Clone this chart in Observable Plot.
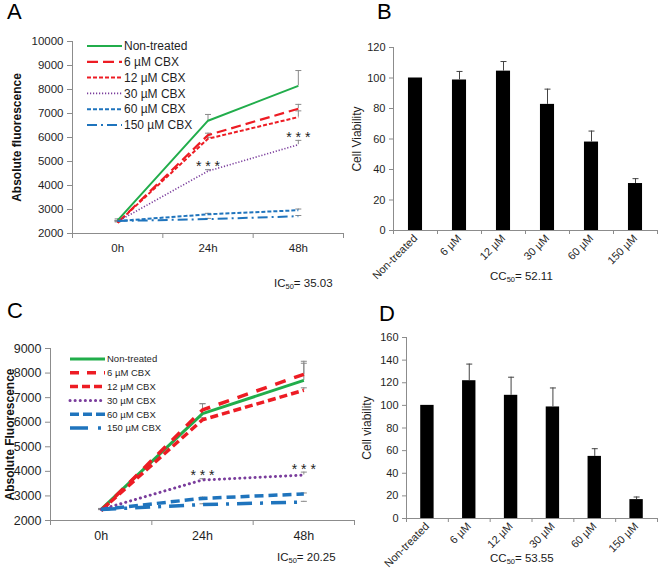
<!DOCTYPE html>
<html><head><meta charset="utf-8">
<script src="https://cdn.jsdelivr.net/npm/d3@7"></script>
<script src="https://cdn.jsdelivr.net/npm/@observablehq/plot@0.6"></script>
<style>
body{margin:0;background:#fff;}
#fig{position:relative;width:658px;height:576px;overflow:hidden;font-family:"Liberation Sans",Arial,sans-serif;background:#fff;}
.panel{position:absolute;}
.letter{position:absolute;font-size:22px;line-height:24px;color:#000;}
.note{position:absolute;font-size:11.5px;line-height:14px;color:#1a1a1a;white-space:nowrap;}
.note sub{font-size:7.5px;vertical-align:-2px;}
</style></head><body><div id="fig"></div>
<script>
// ---------- data ----------
const timepoints = ["0h", "24h", "48h"];
const seriesNames = ["Non-treated", "6 µM CBX", "12 µM CBX", "30 µM CBX", "60 µM CBX", "150 µM CBX"];
const seriesColors = ["#21ad4b", "#ed1c24", "#ed1c24", "#7a3d9c", "#1f74bd", "#1f74bd"];

// Panel A: absolute fluorescence (series x timepoint)
const fluorA = [
  [2550, 6700, 8150],
  [2450, 6100, 7200],
  [2450, 5950, 6850],
  [2500, 4600, 5700],
  [2520, 2800, 2970],
  [2520, 2600, 2720]
];
const errA = [
  [60, 260, 640],
  [40, 80, 180],
  [40, 60, 260],
  [40, 60, 180],
  [30, 40, 50],
  [20, 30, 30]
];
// Panel C
const fluorC = [
  [2450, 6350, 7700],
  [2400, 6500, 7950],
  [2420, 6100, 7300],
  [2450, 3650, 3850],
  [2450, 2900, 3080],
  [2450, 2650, 2750]
];
const errC = [
  [40, 410, 780],
  [40, 250, 450],
  [40, 80, 100],
  [40, 50, 120],
  [30, 50, 40],
  [20, 30, 30]
];
const sigSeries = 3;               // series flagged with ***
const sigTimes = ["24h", "48h"];

// Panels B and D: cell viability
const doses = ["Non-treated", "6 µM", "12 µM", "30 µM", "60 µM", "150 µM"];
const viabilityB = [100, 98.7, 104.5, 82.7, 58, 30.8];
const viabilityErrB = [0, 5.6, 6.3, 10, 7.2, 3.2];
const viabilityD = [100, 121.8, 108.9, 98.6, 54.9, 16.7];
const viabilityErrD = [0, 14.7, 16, 16.8, 6.8, 2.3];

// ---------- styles ----------
const AXIS = "#8c8c8c";
const TXT = "#1f1f1f";
const ERR = "#8a8a8a";
const capSymbol = {draw(ctx, size) { const r = Math.sqrt(size / Math.PI); ctx.moveTo(-r, 0); ctx.lineTo(r, 0); }};
const plain = d3.format("d");

const fig = d3.select("#fig");

function place(node, left, top) {
  const div = fig.append("div").attr("class", "panel").style("left", left + "px").style("top", top + "px");
  div.node().appendChild(node);
}

function lineChart(o) {
  const rows = [];
  o.values.forEach((arr, s) => arr.forEach((v, t) => rows.push({s, t, x: t + 0.5, v, e: o.errs[s][t]})));
  const errRows = rows.filter(d => d.e > 0);
  const marks = [
    Plot.ruleY([o.yDomain[0]], {stroke: AXIS}),
    Plot.ruleX([0], {stroke: AXIS}),
    Plot.ruleX(errRows, {x: "x", y1: "v", y2: d => d.v + d.e, stroke: ERR, strokeWidth: 1}),
    Plot.dot(errRows, {x: "x", y: d => d.v + d.e, symbol: capSymbol, r: 3, stroke: ERR, fill: "none", strokeWidth: 1})
  ];
  seriesNames.forEach((name, s) => {
    marks.push(Plot.line(rows.filter(d => d.s === s), {
      x: "x", y: "v", stroke: seriesColors[s], strokeWidth: o.widths[s],
      strokeDasharray: o.dashes[s], strokeLinecap: o.caps[s], strokeLinejoin: "round"
    }));
  });
  const sigRows = rows.filter(d => d.s === sigSeries && sigTimes.includes(timepoints[d.t]));
  marks.push(Plot.text(sigRows, {x: "x", y: d => d.v + d.e, text: () => "* * *", dy: -3, fontSize: 14, fill: "#222"}));
  marks.push(Plot.axisY({ticks: o.yTicks, tickSize: 5, tickPadding: 4, tickFormat: plain, stroke: AXIS, fill: TXT, label: null, fontSize: o.tickFont}));
  marks.push(Plot.axisX({ticks: d3.range(0, timepoints.length + 1), tickSize: 5, tickFormat: () => "", stroke: AXIS, label: null}));
  marks.push(Plot.axisX({ticks: timepoints.map((d, i) => i + 0.5), tickSize: 0, tickPadding: o.xPad, tickFormat: d => timepoints[Math.floor(d)], fill: TXT, label: null, fontSize: o.tickFont}));
  marks.push(Plot.text([o.yLabel], {frameAnchor: "left", textAnchor: "middle", lineAnchor: "middle", rotate: -90, dx: o.labelDx, text: d => d, fontWeight: "bold", fontSize: o.labelFont, fill: "#111"}));
  return Plot.plot({
    width: o.width, height: o.height,
    marginLeft: o.ml, marginRight: o.mr, marginTop: o.mt, marginBottom: o.mb,
    x: {domain: [0, timepoints.length]},
    y: {domain: o.yDomain},
    style: {background: "transparent", fontFamily: "'Liberation Sans', Arial, sans-serif", overflow: "visible"},
    marks
  });
}

function barChart(o) {
  const rows = doses.map((d, i) => ({i, x: i + 0.5, v: o.values[i], e: o.errs[i]}));
  const errRows = rows.filter(d => d.e > 0);
  const half = 0.16;
  const marks = [
    Plot.rectY(rows, {x1: d => d.x - half, x2: d => d.x + half, y: "v", fill: "#000"}),
    Plot.ruleX(errRows, {x: "x", y1: "v", y2: d => d.v + d.e, stroke: "#444", strokeWidth: 1}),
    Plot.dot(errRows, {x: "x", y: d => d.v + d.e, symbol: capSymbol, r: 3, stroke: "#444", fill: "none", strokeWidth: 1}),
    Plot.ruleY([0], {stroke: AXIS}),
    Plot.ruleX([0], {stroke: AXIS}),
    Plot.axisY({ticks: o.yTicks, tickSize: 4, tickPadding: 4, tickFormat: plain, stroke: AXIS, fill: TXT, label: null, fontSize: 11}),
    Plot.axisX({ticks: d3.range(0, doses.length + 1), tickSize: 4, tickFormat: () => "", stroke: AXIS, label: null}),
    Plot.axisX({ticks: rows.map(d => d.x), tickSize: 0, tickPadding: 6, tickRotate: -45, tickFormat: d => doses[Math.floor(d)], fill: TXT, label: null, fontSize: 11}),
    Plot.text([o.yLabel], {frameAnchor: "left", textAnchor: "middle", lineAnchor: "middle", rotate: -90, dx: o.labelDx, text: d => d, fontSize: 12, fill: TXT})
  ];
  return Plot.plot({
    width: o.width, height: o.height,
    marginLeft: o.ml, marginRight: o.mr, marginTop: o.mt, marginBottom: o.mb,
    x: {domain: [0, doses.length]},
    y: {domain: o.yDomain},
    style: {background: "transparent", fontFamily: "'Liberation Sans', Arial, sans-serif", overflow: "visible"},
    marks
  });
}

// ---------- panels ----------
const chartA = lineChart({
  values: fluorA, errs: errA, yDomain: [2000, 10000], yTicks: d3.range(2000, 10001, 1000),
  yLabel: "Absolute fluorescence", labelDx: -55, labelFont: 12, tickFont: 11.5, xPad: 10,
  width: 345, height: 290, ml: 72, mr: 2, mt: 41, mb: 57,
  widths: [2, 2.2, 2, 1.6, 2, 2],
  dashes: ["none", "10,5", "4,2", "1.2,1.8", "4,2", "10,4,2,4"],
  caps: ["butt", "butt", "butt", "butt", "butt", "butt"]
});
place(chartA, 0, 0);

const chartB = barChart({
  values: viabilityB, errs: viabilityErrB, yDomain: [0, 120], yTicks: d3.range(0, 121, 20),
  yLabel: "Cell Viability", labelDx: -36,
  width: 328, height: 290, ml: 63, mr: 1, mt: 47, mb: 60
});
place(chartB, 330, 0);

const chartC = lineChart({
  values: fluorC, errs: errC, yDomain: [2000, 9000], yTicks: d3.range(2000, 9001, 1000),
  yLabel: "Absolute Fluorescence", labelDx: -40, labelFont: 12, tickFont: 12.5, xPad: 11,
  width: 360, height: 286, ml: 50, mr: 6, mt: 58, mb: 56,
  widths: [3, 3.5, 3.5, 3, 3.5, 3.5],
  dashes: ["none", "11,9", "8,4", "0.1,5", "9,5", "15,8,3,8"],
  caps: ["butt", "butt", "butt", "round", "butt", "butt"]
});
place(chartC, 0, 290);

const chartD = barChart({
  values: viabilityD, errs: viabilityErrD, yDomain: [0, 160], yTicks: d3.range(0, 161, 20),
  yLabel: "Cell viability", labelDx: -39,
  width: 328, height: 286, ml: 76, mr: 1, mt: 47, mb: 58
});
place(chartD, 330, 290);

// ---------- legends ----------
const overlay = fig.append("svg").attr("width", 658).attr("height", 576)
  .style("position", "absolute").style("left", "0px").style("top", "0px").style("pointer-events", "none");

function legend(o) {
  seriesNames.forEach((name, i) => {
    const y = o.y0 + i * o.step;
    overlay.append("line").attr("x1", o.x0).attr("x2", o.x1).attr("y1", y).attr("y2", y)
      .attr("stroke", seriesColors[i]).attr("stroke-width", o.widths[i])
      .attr("stroke-dasharray", o.dashes[i]).attr("stroke-linecap", o.caps[i]);
    overlay.append("text").attr("x", o.tx).attr("y", y).attr("dy", "0.35em")
      .attr("font-size", o.fontSize).attr("fill", TXT)
      .attr("font-family", "'Liberation Sans', Arial, sans-serif").text(name);
  });
}
legend({x0: 87, x1: 122, tx: 124, y0: 46, step: 15.8, fontSize: 12,
  widths: [2, 2.2, 2, 1.6, 2, 2],
  dashes: ["none", "11,5", "4,2", "1.2,1.8", "4,2", "10,4,2,4"],
  caps: ["butt", "butt", "butt", "butt", "butt", "butt"]});
legend({x0: 70, x1: 105, tx: 107, y0: 359, step: 13.8, fontSize: 9.5,
  widths: [3, 3.5, 3.5, 3, 3.5, 3.5],
  dashes: ["none", "9,8", "8,4", "0.1,5", "9,4", "18,10,3,9"],
  caps: ["butt", "butt", "butt", "round", "butt", "butt"]});

// ---------- panel letters and notes ----------
[["A", 7, 0], ["B", 377, 0], ["C", 7, 299], ["D", 379, 302]].forEach(([t, x, y]) =>
  fig.append("div").attr("class", "letter").style("left", x + "px").style("top", y + "px").text(t));
[["IC<sub>50</sub>= 35.03", 274, 276], ["CC<sub>50</sub>= 52.11", 490, 269],
 ["IC<sub>50</sub>= 20.25", 277, 550], ["CC<sub>50</sub>= 53.55", 490, 551]].forEach(([t, x, y]) =>
  fig.append("div").attr("class", "note").style("left", x + "px").style("top", y + "px").html(t));
</script>
</body></html>
